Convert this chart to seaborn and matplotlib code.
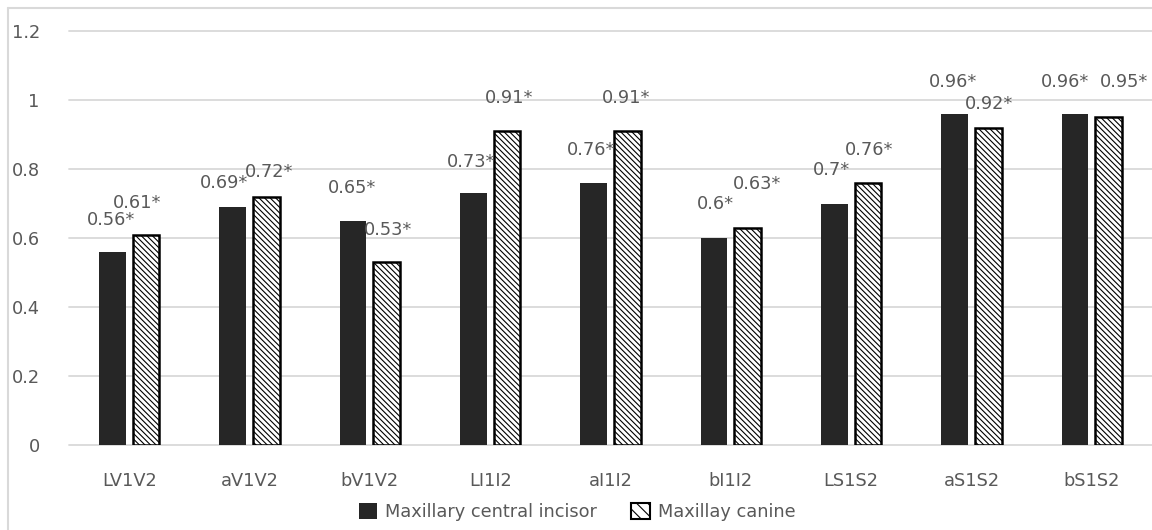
import pandas as pd
import matplotlib.pyplot as plt
import seaborn as sns
from matplotlib.patches import Patch
from matplotlib.lines import Line2D

# chart data
categories = ["LV1V2", "aV1V2", "bV1V2", "LI1I2", "aI1I2", "bI1I2", "LS1S2", "aS1S2", "bS1S2"]
incisor = [0.56, 0.69, 0.65, 0.73, 0.76, 0.60, 0.70, 0.96, 0.96]
canine = [0.61, 0.72, 0.53, 0.91, 0.91, 0.63, 0.76, 0.92, 0.95]
series_names = ["Maxillary central incisor", "Maxillay canine"]
incisor_labels = ["0.56*", "0.69*", "0.65*", "0.73*", "0.76*", "0.6*", "0.7*", "0.96*", "0.96*"]
canine_labels = ["0.61*", "0.72*", "0.53*", "0.91*", "0.91*", "0.63*", "0.76*", "0.92*", "0.95*"]

# where the data labels sit (hand-placed in the original)
incisor_lab_dx = [-0.15, -0.21, -0.15, -0.16, -0.16, -0.13, -0.16, -0.15, -0.22]
incisor_lab_y = [0.652, 0.759, 0.745, 0.820, 0.855, 0.699, 0.797, 1.052, 1.052]
canine_lab_dx = [0.067, 0.16, 0.15, 0.16, 0.13, 0.22, 0.15, 0.15, 0.27]
canine_lab_y = [0.701, 0.791, 0.623, 1.006, 1.006, 0.757, 0.855, 0.988, 1.052]

df = pd.DataFrame({
    "cat": categories * 2,
    "value": incisor + canine,
    "series": [series_names[0]] * len(categories) + [series_names[1]] * len(categories),
})

sns.set_style("white")
plt.rcParams["font.family"] = ["DejaVu Sans"]
plt.rcParams["hatch.linewidth"] = 0.8

grey = "#595959"
light = "#d9d9d9"
dark = "#262626"
hatch = "\\" * 6
fs = 12.8

fig = plt.figure(figsize=(11.52, 5.3), dpi=100)
ax = fig.add_axes([0.0599, 0.160, 0.9401, 0.7815])

sns.barplot(data=df, x="cat", y="value", hue="series", order=categories,
            hue_order=series_names, palette=[dark, "white"], width=0.56, gap=0.2,
            linewidth=0, errorbar=None, legend=False, ax=ax)

for bar in ax.containers[1]:
    bar.set_hatch(hatch)
    bar.set_edgecolor("black")
    bar.set_linewidth(1.8)

for i in range(len(categories)):
    ax.text(i + incisor_lab_dx[i], incisor_lab_y[i], incisor_labels[i],
            ha="center", va="center", fontsize=fs, color=grey)
    ax.text(i + canine_lab_dx[i], canine_lab_y[i], canine_labels[i],
            ha="center", va="center", fontsize=fs, color=grey)

ax.set_xlim(-0.5, 8.5)
ax.set_ylim(0, 1.2)
ax.set_yticks([0, 0.2, 0.4, 0.6, 0.8, 1.0, 1.2])
ax.set_yticklabels(["0", "0.2", "0.4", "0.6", "0.8", "1", "1.2"])
ax.yaxis.grid(True, color=light, linewidth=1.3)
for gl in ax.get_ygridlines():
    gl.set_clip_on(False)
ax.set_axisbelow(True)
for s in ax.spines.values():
    s.set_visible(False)
ax.tick_params(axis="both", length=0, labelsize=fs, labelcolor=grey)
ax.tick_params(axis="y", pad=21)
ax.tick_params(axis="x", pad=19)
ax.set_xlabel("")
ax.set_ylabel("")

handles = [
    Patch(facecolor=dark, edgecolor=dark, linewidth=0),
    Patch(facecolor="white", edgecolor="black", hatch="\\\\\\", linewidth=1.5),
]
fig.legend(handles, series_names, loc="center", bbox_to_anchor=(577 / 1152, 0.034),
           ncol=2, frameon=False, fontsize=fs, labelcolor=grey,
           handlelength=1.05, handleheight=1.05, handletextpad=0.45, columnspacing=1.9)

# chart area border
fig.add_artist(Line2D([8 / 1152, 8 / 1152], [0, 1 - 8 / 530], color=light, linewidth=1.5))
fig.add_artist(Line2D([8 / 1152, 1], [1 - 8 / 530, 1 - 8 / 530], color=light, linewidth=1.5))

fig.savefig("out.png", dpi=100)
